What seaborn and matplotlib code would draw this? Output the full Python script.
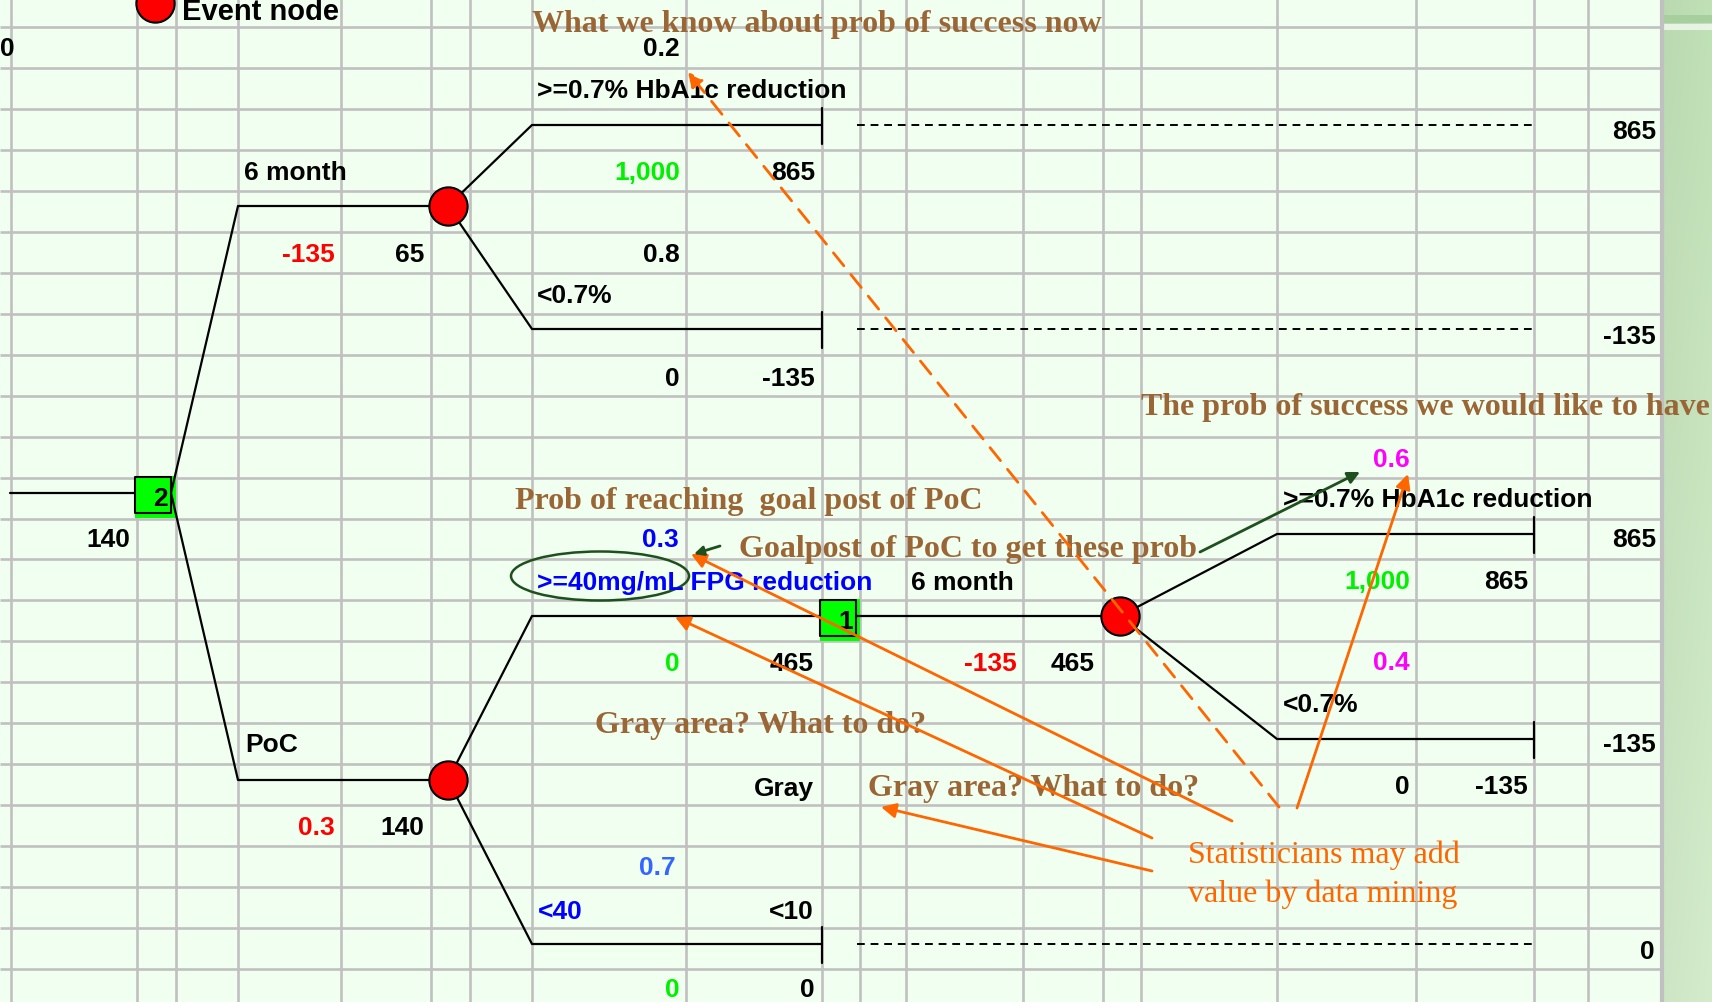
import numpy as np
import pandas as pd
import matplotlib
matplotlib.use("Agg")
import matplotlib.pyplot as plt
from matplotlib.patches import Ellipse, Rectangle
import seaborn as sns

# ---------------- tree content ----------------
decision_ids = ["2", "1"]
root_value = "140"
arm_labels = ["6 month", "PoC"]
arm_first = ["-135", "0.3"]
arm_second = ["65", "140"]

hba1c_labels = [">=0.7% HbA1c reduction", "<0.7%"]
now_probs = ["0.2", "0.8"]
target_probs = ["0.6", "0.4"]
hba1c_gain = ["1,000", "0"]
hba1c_net = ["865", "-135"]
hba1c_end = ["865", "-135"]

fpg_labels = [">=40mg/mL FPG reduction", "Gray", "<40"]
fpg_probs = ["0.3", "", "0.7"]
fpg_gain = ["0", "", "0"]
fpg_net = ["465", "", "0"]
lowfpg_tag = "<10"
lowfpg_end = "0"
followup_label = "6 month"
followup_cost = "-135"
followup_value = "465"

notes = [
    "What we know about prob of success now",
    "The prob of success we would like to have",
    "Prob of reaching  goal post of PoC",
    "Goalpost of PoC to get these prob",
    "Gray area? What to do?",
    "Gray area? What to do?",
]
stat_note = "Statisticians may add\nvalue by data mining"
legend_label = "Event node"

# ---------------- styling ----------------
sns.set_theme(style="white")
plt.rcParams["font.family"] = ["Liberation Sans", "DejaVu Sans"]

BG = "#f0fff0"
GRID = "#c0c0c0"
BROWN = "#9a6636"
ORANGE = "#ff6600"
DKGREEN = "#1e501e"
GREEN = "#00f000"
BLUE = "#0000ff"
LBLUE = "#3366ff"
MAG = "#ff00ff"
RED = "#ff0000"

W, H = 1712, 1003
fig = plt.figure(figsize=(W / 100, H / 100), dpi=100, facecolor=BG)
ax = fig.add_axes([0, 0, 1, 1])
ax.set_facecolor(BG)

# side strip with soft green gradient
rows = np.linspace(0, 1, H)[:, None]
cols = np.linspace(0, 1, 48)[None, :]
base = np.array([192, 224, 182]) / 255
low = np.array([212, 236, 204]) / 255
grad = base[None, None, :] * (1 - rows[..., None]) + low[None, None, :] * rows[..., None]
grad = grad * (0.97 + 0.03 * cols[..., None])
grad[16:24] = np.array([168, 208, 158]) / 255
grad[25:31] = np.array([232, 244, 228]) / 255
ax.imshow(np.clip(grad, 0, 1), extent=(1664, 1712, H, 0), aspect="auto", zorder=0)

# spreadsheet grid
col_x = [11, 137, 176, 238, 341, 431, 470, 532, 686, 822, 860, 906,
         1023, 1103, 1141, 1277, 1416, 1534, 1588]
row_y = [28 + 40.96 * k for k in range(24)]
ax.vlines(col_x, 0, H, color=GRID, lw=1.9, zorder=1)
ax.vlines([1662], 0, H, color=GRID, lw=3.0, zorder=1)
ax.hlines(row_y, 0, 1662, color=GRID, lw=1.9, zorder=1)

# highlighted decision cells
for (x0, y0, w, h) in [(135, 477, 41, 42), (820, 600, 40, 42)]:
    ax.add_patch(Rectangle((x0, y0), w, h, color="#00ff00", lw=0, zorder=2))

# ---------------- tree branches ----------------
branches = [
    [(10, 494), (135, 494)],
    [(171, 494), (238, 207), (448, 207)],
    [(171, 494), (238, 781), (448, 781)],
    [(448, 207), (532, 126), (822, 126)],
    [(448, 207), (532, 330), (822, 330)],
    [(448, 781), (532, 617), (1120, 617)],
    [(448, 781), (532, 945), (822, 945)],
    [(1120, 617), (1277, 535), (1534, 535)],
    [(1120, 617), (1277, 740), (1534, 740)],
]
ends = [(822, 126), (822, 330), (822, 945), (1534, 535), (1534, 740)]
for ex, ey in ends:
    branches.append([(ex, ey - 17), (ex, ey + 19)])

recs = []
for i, seg in enumerate(branches):
    for j, (x, y) in enumerate(seg):
        recs.append({"seg": i, "order": j, "x": x, "y": y})
tree = pd.DataFrame(recs)
sns.lineplot(data=tree, x="x", y="y", units="seg", estimator=None, sort=False,
             color="black", linewidth=1.6, ax=ax, legend=False, zorder=3)

# dotted extensions to the payoff column
for _, ey in [(822, 126), (822, 330), (822, 945)]:
    ax.plot([857, 1534], [ey, ey], color="black", lw=1.4,
            ls=(0, (4, 3)), zorder=3)

# chance nodes and decision nodes
events = pd.DataFrame({"x": [448, 448, 1120, 155], "y": [207, 781, 617, 4]})
sns.scatterplot(data=events, x="x", y="y", s=760, color=RED, edgecolor="black",
                linewidth=1.5, ax=ax, zorder=5, legend=False)
decisions = pd.DataFrame({"x": [153, 838.5], "y": [495.5, 618.5]})
sns.scatterplot(data=decisions, x="x", y="y", s=690, marker="s", color="#00ff00",
                edgecolor="black", linewidth=1.5, ax=ax, zorder=5, legend=False)

ax.add_patch(Ellipse((600, 577), 178, 49, fill=False, ec=DKGREEN, lw=1.8, zorder=6))

# ---------------- labels ----------------
FS = 19


def lab(x, y, s, color="black", ha="right", size=FS):
    ax.text(x, y, s, color=color, ha=ha, va="center", fontsize=size,
            fontweight="bold", zorder=7)


ax.text(182, 20, legend_label, ha="left", va="baseline", fontsize=21,
        fontweight="bold", color="black", zorder=7)
lab(0, 49, "0", ha="left")

# root decision
lab(168, 499, decision_ids[0])
lab(130, 540, root_value)

# first-level arms
lab(244, 173, arm_labels[0], ha="left")
lab(335, 255, arm_first[0], color=RED)
lab(424, 255, arm_second[0])
lab(245, 745, arm_labels[1], ha="left")
lab(335, 828, arm_first[1], color=RED)
lab(424, 828, arm_second[1])

# upper HbA1c chance node
lab(680, 49, now_probs[0])
lab(537, 91, hba1c_labels[0], ha="left")
lab(680, 173, hba1c_gain[0], color=GREEN)
lab(815, 173, hba1c_net[0])
lab(1656, 132, hba1c_end[0])
lab(680, 255, now_probs[1])
lab(537, 296, hba1c_labels[1], ha="left")
lab(680, 379, hba1c_gain[1])
lab(815, 379, hba1c_net[1])
lab(1656, 337, hba1c_end[1])

# FPG chance node
lab(679, 540, fpg_probs[0], color=BLUE)
lab(537, 583, fpg_labels[0], color=BLUE, ha="left")
lab(680, 664, fpg_gain[0], color=GREEN)
lab(814, 664, fpg_net[0])
lab(814, 789, fpg_labels[1])
lab(676, 868, fpg_probs[2], color=LBLUE)
lab(538, 912, fpg_labels[2], color=BLUE, ha="left")
lab(814, 912, lowfpg_tag)
lab(680, 990, fpg_gain[2], color=GREEN)
lab(815, 990, fpg_net[2])
lab(1655, 952, lowfpg_end)

# follow-up decision
lab(853, 622, decision_ids[1])
lab(911, 583, followup_label, ha="left")
lab(1017, 664, followup_cost, color=RED)
lab(1095, 664, followup_value)

# lower HbA1c chance node
lab(1410, 460, target_probs[0], color=MAG)
lab(1283, 500, hba1c_labels[0], ha="left")
lab(1410, 582, hba1c_gain[0], color=GREEN)
lab(1528, 582, hba1c_net[0])
lab(1656, 540, hba1c_end[0])
lab(1410, 663, target_probs[1], color=MAG)
lab(1283, 705, hba1c_labels[1], ha="left")
lab(1410, 787, hba1c_gain[1])
lab(1528, 787, hba1c_net[1])
lab(1656, 745, hba1c_end[1])

# ---------------- commentary ----------------
serif = ["Liberation Serif", "DejaVu Serif"]
note_pos = [(532, 24), (1141, 407), (515, 502), (739, 549), (595, 726), (868, 789)]
for (nx, ny), s in zip(note_pos, notes):
    ax.text(nx, ny, s, family=serif, fontweight="bold", fontsize=23,
            color=BROWN, ha="left", va="center", zorder=8)
ax.text(1188, 875, stat_note, family=serif, fontsize=23, color=ORANGE,
        ha="left", va="center", linespacing=1.4, zorder=8)


def arrow(p0, p1, color, lw=2.0, ls="-", scale=22):
    ax.annotate("", xy=p1, xytext=p0, zorder=9,
                arrowprops=dict(arrowstyle="-|>", color=color, lw=lw,
                                linestyle=ls, mutation_scale=scale,
                                shrinkA=0, shrinkB=0))


arrow((1279, 808), (688, 73), ORANGE, ls=(0, (6, 4)))
arrow((1297, 809), (1408, 475), ORANGE)
arrow((1232, 822), (691, 555), ORANGE)
arrow((1152, 839), (675, 618), ORANGE)
arrow((1152, 872), (881, 808), ORANGE)
arrow((1200, 553), (1360, 473), DKGREEN, scale=18)
arrow((720, 547), (694, 555), DKGREEN, scale=14)

ax.set_xlim(0, W)
ax.set_ylim(H, 0)
ax.axis("off")
fig.savefig("out.png", dpi=100, facecolor=BG)
